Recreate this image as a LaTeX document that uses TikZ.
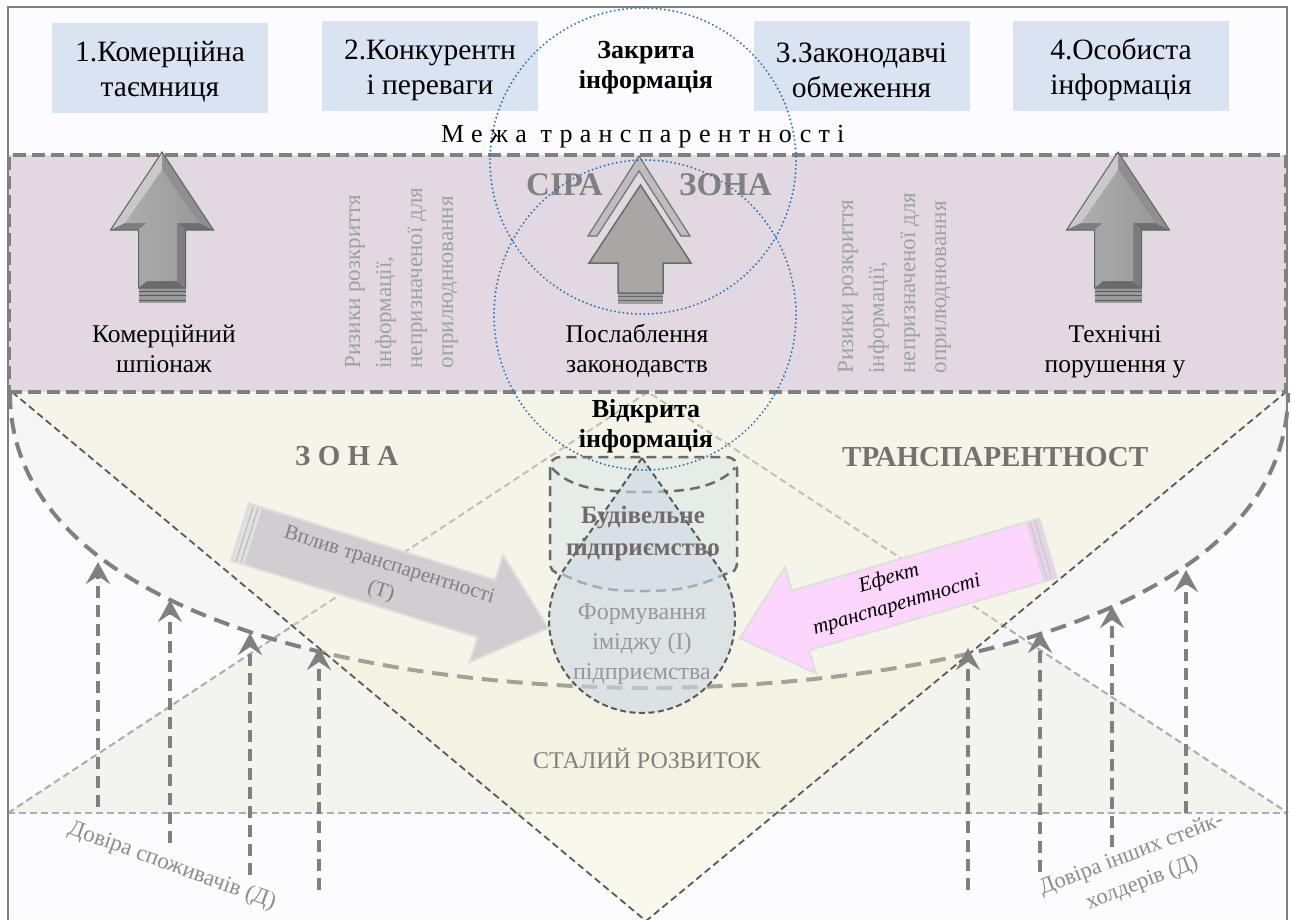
\documentclass[tikz,border=0pt]{standalone}
\usepackage{fontspec}
\setmainfont{Liberation Serif}
\newfontfamily\spacedfont[LetterSpace=28]{Liberation Serif}
\usetikzlibrary{arrows.meta}

\definecolor{cframe}{RGB}{128,128,128}
\definecolor{cbg}{RGB}{252,251,254}
\definecolor{cbox}{RGB}{218,227,242}
\definecolor{czone}{RGB}{226,216,226}
\definecolor{czoneedge}{RGB}{128,128,128}
\definecolor{ccirc}{RGB}{46,117,182}
\definecolor{cufill}{RGB}{246,246,247}
\definecolor{ctrifill}{RGB}{243,243,240}
\definecolor{cinvfill}{RGB}{245,242,200}
\definecolor{clite}{RGB}{172,172,172}
\definecolor{cdark}{RGB}{90,90,90}
\definecolor{cucurve}{RGB}{128,128,128}
\definecolor{cvpliv}{RGB}{208,206,208}
\definecolor{cvplivedge}{RGB}{222,222,222}
\definecolor{cpink}{RGB}{253,214,253}
\definecolor{cpinkstripe}{RGB}{228,212,230}
\definecolor{ccyl}{RGB}{228,236,232}
\definecolor{cdrop}{RGB}{205,216,228}
\definecolor{cgrtext}{RGB}{128,128,128}
\definecolor{crot}{RGB}{160,160,160}
\definecolor{czonetext}{RGB}{118,113,113}
\definecolor{cdroptext}{RGB}{150,150,155}
\definecolor{carrow}{RGB}{128,128,128}
\definecolor{ctrust}{RGB}{140,140,140}
\definecolor{cbuild}{RGB}{112,106,106}

\newcommand{\drawbevelarrow}[1]{%
 \begin{scope}[shift={(#1,0)}]
  \fill[black!44] (0,152) -- (51.5,230) -- (37,223) -- (0,170) -- cycle;
  \fill[black!21] (0,152) -- (-51.5,230) -- (-37,223) -- (0,170) -- cycle;
  \fill[black!51] (-51.5,230) -- (-23.5,230) -- (-15,223) -- (-37,223) -- cycle;
  \fill[black!57] (51.5,230) -- (23.5,230) -- (15,223) -- (37,223) -- cycle;
  \fill[black!35] (-23.5,230) -- (-23.5,288) -- (-15,281) -- (-15,223) -- cycle;
  \fill[black!51] (23.5,230) -- (23.5,288) -- (15,281) -- (15,223) -- cycle;
  \fill[black!58] (-23.5,288) -- (23.5,288) -- (15,281) -- (-15,281) -- cycle;
  \shade[left color=black!32, middle color=black!13, right color=black!40] (0,170) -- (37,223) -- (15,223) -- (15,281) -- (-15,281) -- (-15,223) -- (-37,223) -- cycle;
  \fill[black!40] (-23.5,288) rectangle (23.5,303);
  \draw[black!65, line width=1pt] (-23.5,291) -- (23.5,291) (-23.5,295.5) -- (23.5,295.5) (-23.5,300) -- (23.5,300);
  \draw[black!62, line width=1pt] (0,152) -- (51.5,230) -- (23.5,230) -- (23.5,288) -- (-23.5,288) -- (-23.5,230) -- (-51.5,230) -- cycle;
 \end{scope}}

\begin{document}
\begin{tikzpicture}[x=1pt,y=-1pt,
  topbox/.style={fill=cbox, minimum width=216pt, minimum height=90pt, inner sep=0pt},
  boxtxt/.style={align=center, font=\fontsize{29.5}{35}\selectfont, inner sep=0pt},
  zonebox/.style={fill=czone, draw=czoneedge, line width=3.5pt, dash pattern=on 13pt off 6pt, minimum width=1277pt, minimum height=237pt, inner sep=0pt},
  zonetitle/.style={text=cgrtext, font=\bfseries\fontsize{33}{38}\selectfont, inner sep=0pt},
  infotitle/.style={align=center, font=\bfseries\fontsize{26}{30}\selectfont, inner sep=0pt},
  armlabel/.style={align=center, font=\fontsize{25.5}{30}\selectfont, inner sep=0pt},
  risktxt/.style={align=left, rotate=90, text=crot, font=\fontsize{23}{31}\selectfont, inner sep=0pt},
  bigzone/.style={text=czonetext, font=\bfseries\fontsize{29}{34}\selectfont, inner sep=0pt},
  circ/.style={draw=ccirc, line width=2.2pt, line cap=round, dash pattern=on 0pt off 4.2pt},
  varrow/.style={draw=carrow, line width=3.5pt, dash pattern=on 12pt off 7pt, -{Stealth[length=22pt,width=24pt,inset=8pt]}},
  ucurve/.style={draw=cucurve, line width=4pt, dash pattern=on 16pt off 9pt},
  invedge/.style={draw=cdark, line width=1.8pt, dash pattern=on 7pt off 4pt},
  triedge/.style={draw=clite, line width=2pt, dash pattern=on 7pt off 4pt},
  cylshape/.style={fill=ccyl, fill opacity=0.85, draw=black!58, draw opacity=1, line width=2.5pt, dash pattern=on 10pt off 6pt},
  dropshape/.style={fill=cdrop, fill opacity=0.6, draw=black!65, draw opacity=1, line width=2pt, dash pattern=on 6pt off 3.5pt},
  trusttxt/.style={align=center, text=ctrust, font=\fontsize{23}{31}\selectfont, inner sep=0pt}
]
\useasboundingbox (0,0) rectangle (1292,919);
\fill[white] (0,0) rectangle (1292,919);
\fill[cbg] (8,7) rectangle (1287,919);

% ---------- lower zone ----------
\fill[ctrifill] (8,813) -- (648,392) -- (1288,813) -- cycle;
\fill[cufill] (10,393) .. controls (10,600) and (330,686) .. (648,688) .. controls (966,686) and (1288,600) .. (1288,393) -- cycle;
\draw[triedge] (8,813) -- (648,392) -- (1288,813);
\draw[triedge] (8,813) -- (1288,813);
\draw[ucurve] (10,393) .. controls (10,600) and (330,686) .. (648,688) .. controls (966,686) and (1288,600) .. (1288,393);
\fill[cinvfill, fill opacity=0.3] (12,392) -- (646,921) -- (1286,392) -- cycle;
\draw[invedge] (12,392) -- (646,921) -- (1286,392);

% ---------- frame ----------
\draw[cframe, line width=1.2pt] (8,925) -- (8,7) -- (1287,7) -- (1287,925);

% ---------- top boxes ----------
\node[topbox] (b1) at (160,68) {};
\node[topbox] (b2) at (430,66) {};
\node[topbox] (b3) at (861.5,66) {};
\node[topbox] (b4) at (1121,66) {};
\node[boxtxt] (t1) at ([yshift=-4pt]b1.center) {1.Комерційна\\таємниця};
\node[boxtxt] (t2) at ([yshift=-4pt]b2.center) {2.Конкурентн\\і переваги};
\node[boxtxt] (t3) at ([yshift=-4pt]b3.center) {3.Законодавчі\\обмеження};
\node[boxtxt] (t4) at ([yshift=-4pt]b4.center) {4.Особиста\\інформація};

% ---------- grey zone ----------
\node[zonebox] (zone) at (647.5,273.5) {};
\node[zonetitle, anchor=base west] (sira) at (526,195) {СІРА};
\node[zonetitle, anchor=base west] (zona) at (679,195) {ЗОНА};

\drawbevelarrow{162}
\drawbevelarrow{1118}

% central arrow with chevron
\filldraw[fill=black!26, draw=black!55, line width=1.2pt] (639,156) -- (690,236) -- (681,236) -- (639,171) -- (597,236) -- (588,236) -- cycle;
\fill[black!38] (618,293) rectangle (663,304);
\draw[black!60, line width=1pt] (618,296.5) -- (663,296.5) (618,300.5) -- (663,300.5);
\filldraw[fill={rgb,255:red,169;green,166;blue,166}, draw=black!58, line width=1.5pt] (640.5,185) -- (691,263) -- (663,263) -- (663,293) -- (618,293) -- (618,263) -- (589,263) -- cycle;

\node[armlabel] (lab1) at (164,349) {Комерційний\\шпіонаж};
\node[armlabel] (lab2) at (637,351) {Послаблення\\законодавств};
\node[armlabel] (lab3) at (1115,351.5) {Технічні\\порушення у};

\node[risktxt] (risk1) at (401.5,278) {Ризики розкриття\\інформації,\\непризначеної для\\оприлюднювання};
\node[risktxt] (risk2) at (894.5,283) {Ризики розкриття\\інформації,\\непризначеної для\\оприлюднювання};

% ---------- transparency zone texts ----------
\node[bigzone, anchor=base west] (zona2) at (295,465) {З О Н А};
\node[bigzone, anchor=base west] (transp) at (842,466) {ТРАНСПАРЕНТНОСТ};

% ---------- vertical trust arrows ----------
\coordinate (l1b) at (98,807);   \coordinate (l1t) at (98,562);
\coordinate (l2b) at (170,843);  \coordinate (l2t) at (170,600);
\coordinate (l3b) at (250,875);  \coordinate (l3t) at (250,633);
\coordinate (l4b) at (319,890);  \coordinate (l4t) at (319,648);
\coordinate (r1b) at (968,890);  \coordinate (r1t) at (968,648);
\coordinate (r2b) at (1040,872); \coordinate (r2t) at (1040,631);
\coordinate (r3b) at (1112,847); \coordinate (r3t) at (1112,606);
\coordinate (r4b) at (1186,813); \coordinate (r4t) at (1186,570);
\foreach \a in {l1,l2,l3,l4,r1,r2,r3,r4} { \draw[varrow] (\a b) -- (\a t); }

% ---------- big block arrows ----------
\begin{scope}[shift={(240,532)}, rotate=-17.3]
  \filldraw[fill=cvpliv, draw=cvplivedge, line width=2pt] (0,-30) -- (258,-30) -- (258,-56) -- (323,0) -- (258,56) -- (258,30) -- (0,30) -- cycle;
  \fill[black!12] (1,-29) rectangle (14,29);
  \draw[black!28, line width=1pt] (5,-29) -- (5,29) (10,-29) -- (10,29);
\end{scope}
\begin{scope}[shift={(1048,548)}, rotate=196.3]
  \filldraw[fill=cpink, draw=cvplivedge, line width=2pt] (0,-31) -- (258,-31) -- (258,-55) -- (321,0) -- (258,55) -- (258,31) -- (0,31) -- cycle;
  \fill[cpinkstripe] (1,-30) rectangle (14,30);
  \draw[black!22, line width=1pt] (5,-30) -- (5,30) (10,-30) -- (10,30);
\end{scope}
\node[align=center, text=cgrtext, font=\fontsize{21}{28}\selectfont, rotate=-17.3, inner sep=0pt] (vpliv) at (385,579) {Вплив транспарентності\\(Т)};
\node[align=center, font=\itshape\fontsize{21}{28}\selectfont, rotate=16.3, inner sep=0pt] (efekt) at (893,592) {Ефект\\транспарентності};

% ---------- cylinder and drop ----------
\path[cylshape] (550,470) -- (550,561) .. controls (550,570) and (553,573) .. (562,574) .. controls (590,588) and (610,591) .. (643,591) .. controls (676,591) and (696,588) .. (725,574) .. controls (734,573) and (737,570) .. (737,561) -- (737,470) .. controls (737,461) and (734,457) .. (725,457) -- (562,457) .. controls (553,457) and (550,461) .. (550,470) -- cycle;
\draw[draw=black!58, line width=2.5pt, dash pattern=on 10pt off 6pt] (552,468) .. controls (570,488) and (600,492) .. (643,492) .. controls (686,492) and (716,488) .. (735,468);
\path[dropshape] (642,458) -- plot[domain=215:-35, samples=60] ({642+93*cos(\x)},{620+93*sin(\x)}) -- cycle;

% ---------- circles ----------
\draw[circ] (643,161) circle[radius=153pt];
\draw[circ] (645,315) ellipse[x radius=151pt, y radius=155pt];

% ---------- titles ----------
\node[infotitle] (closed) at (646,68) {Закрита\\інформація};
\node[inner sep=0pt, anchor=base west, font=\spacedfont\fontsize{26}{30}\selectfont] (border) at (441,142) {Межа транспарентності};
\node[infotitle] (open) at (646,426) {Відкрита\\інформація};
\node[align=center, text=cbuild, font=\bfseries\fontsize{25}{32}\selectfont, inner sep=0pt] (build) at (643,533) {Будівельне\\підприємство};
\node[align=center, text=cdroptext, font=\fontsize{24}{30}\selectfont, inner sep=0pt] (image) at (642,644) {Формування\\іміджу (І)\\підприємства};
\node[anchor=base west, text=cgrtext, font=\fontsize{24}{28}\selectfont, inner sep=0pt] (sustain) at (533,768) {СТАЛИЙ РОЗВИТОК};
\node[trusttxt, rotate=-20] (trust1) at (172,866) {Довіра споживачів (Д)};
\node[trusttxt, rotate=21, font=\fontsize{22.5}{30}\selectfont] (trust2) at (1137,869) {Довіра інших стейк-\\холдерів (Д)};
\end{tikzpicture}
\end{document}
